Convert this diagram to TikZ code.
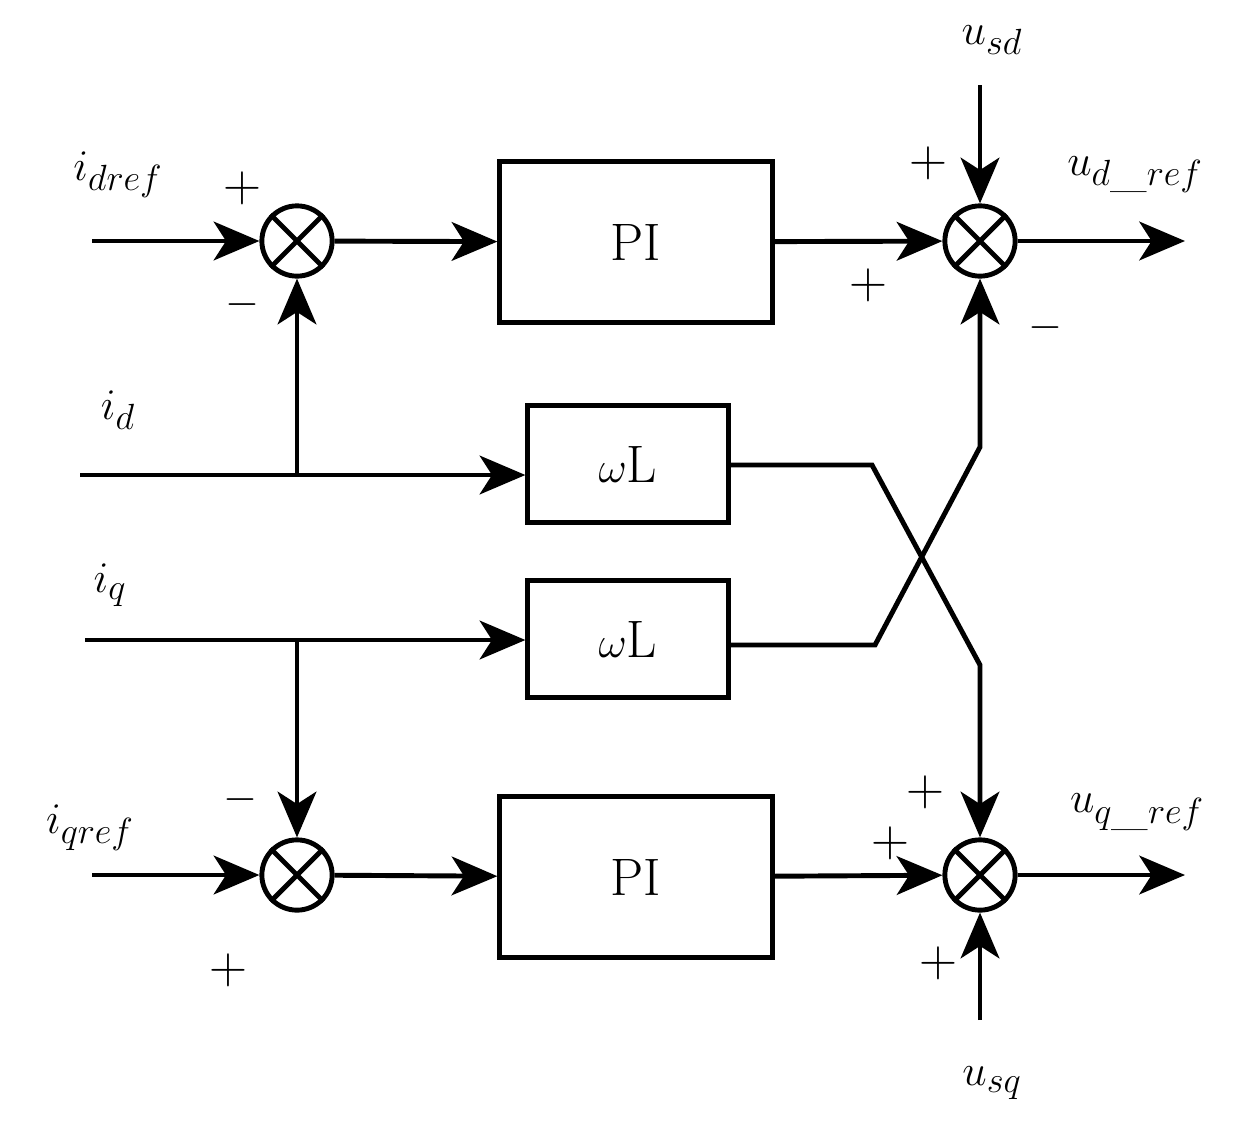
\documentclass[tikz,border=0pt]{standalone}
\usetikzlibrary{arrows.meta}
\begin{document}
\begin{tikzpicture}[x=0.02cm,y=-0.02cm,
  ln/.style={line width=2.8pt},
  ar/.style={ln,-{Stealth[length=26pt,width=22pt,inset=7pt]}},
  sum/.style={circle,draw,line width=2.8pt,minimum size=40pt,inner sep=0pt},
  blk/.style={draw,line width=2.8pt,inner sep=0pt},
  lab/.style={font=\fontsize{30}{34}\selectfont},
  sg/.style={font=\fontsize{30}{34}\selectfont}]
\useasboundingbox (0,0) rectangle (1233,1133);
\foreach \n/\x/\y in {s1/297/241,s2/980/241,s3/297/875,s4/980/875}{
  \node[sum] (\n) at (\x,\y) {};
  \draw[line width=2.8pt] (\n.north west) -- (\n.south east) (\n.north east) -- (\n.south west);
}
\node[blk,minimum width=155pt,minimum height=92pt] (pi1) at (636,242) {\fontsize{30}{34}\selectfont PI};
\node[blk,minimum width=155pt,minimum height=92pt] (pi2) at (636,877) {\fontsize{30}{34}\selectfont PI};
\node[blk,minimum width=114pt,minimum height=67pt] (w1) at (628,464) {\fontsize{30}{34}\selectfont $\omega$L};
\node[blk,minimum width=114pt,minimum height=67pt] (w2) at (628,639) {\fontsize{30}{34}\selectfont $\omega$L};
\coordinate (a1) at (92,241); \coordinate (a2) at (80,475); \coordinate (a3) at (85,640);
\coordinate (a4) at (92,875); \coordinate (o1) at (1185,241); \coordinate (o2) at (1185,875);
\coordinate (ud) at (980,85); \coordinate (uq) at (980,1020);
\coordinate (b1) at (297,475); \coordinate (b2) at (297,640);
\coordinate (c1) at (872,465); \coordinate (c2) at (980,665);
\coordinate (d1) at (875,645); \coordinate (d2) at (980,447);
\draw[ar] (a1) -- (s1);
\draw[ar] (s1) -- (pi1);
\draw[ar] (pi1) -- (s2);
\draw[ar] (s2) -- (o1);
\draw[ar] (a2) -- (w1.west|-a2);
\draw[ar] (b1) -- (s1);
\draw[ar] (a3) -- (w2.west|-a3);
\draw[ar] (b2) -- (s3);
\draw[ar] (a4) -- (s3);
\draw[ar] (s3) -- (pi2);
\draw[ar] (pi2) -- (s4);
\draw[ar] (s4) -- (o2);
\draw[ar] (ud) -- (s2);
\draw[ar] (uq) -- (s4);
\draw[ar] (w1.east|-c1) -- (c1) -- (c2) -- (s4);
\draw[ar] (w2.east|-d1) -- (d1) -- (d2) -- (s2);
\node[lab] (l1) at (118,175) {$i_{dref}$};
\node[lab] (l2) at (118,410) {$i_{d}$};
\node[lab] (l3) at (110,585) {$i_{q}$};
\node[lab] (l4) at (90,828) {$i_{qref}$};
\node[lab] (l5) at (992,40) {$u_{sd}$};
\node[lab] (l6) at (1135,175) {$u_{d\_ref}$};
\node[lab] (l7) at (1137,812) {$u_{q\_ref}$};
\node[lab] (l8) at (992,1083) {$u_{sq}$};
\foreach \x/\y/\t in {242/188/+,242/305/$-$,240/800/$-$,228/970/+,928/163/+,868/285/+,1045/328/$-$,925/792/+,890/843/+,938/963/+}
  \node[sg] at (\x,\y) {\t};
\end{tikzpicture}
\end{document}
